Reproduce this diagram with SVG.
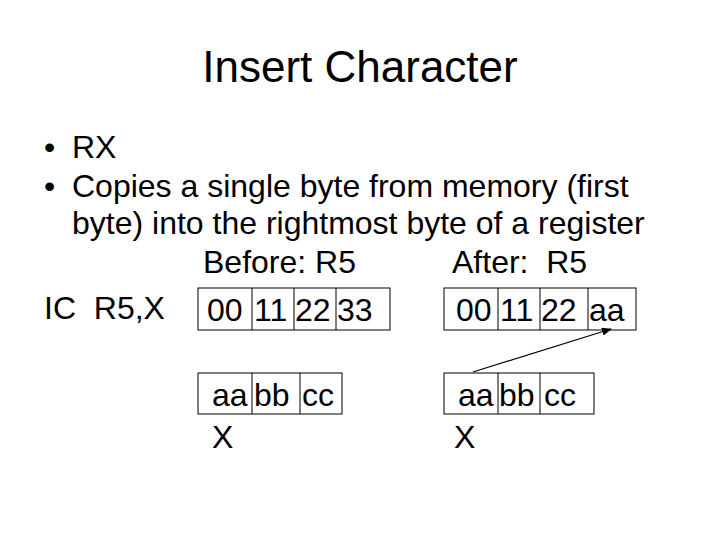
<svg xmlns="http://www.w3.org/2000/svg" width="720" height="540" viewBox="0 0 720 540">
<style>
text{font-family:"Liberation Sans",Arial,sans-serif;fill:#000}
.t{font-size:32px}
.b{fill:none;stroke:#000;stroke-width:1}
</style>
<defs><marker id="ah" markerWidth="10" markerHeight="8" refX="9" refY="4" orient="auto" markerUnits="userSpaceOnUse"><path d="M0,0L10,4L0,8z" fill="#000"/></marker></defs>
<rect width="720" height="540" fill="#fff"/>
<text x="360" y="82" font-size="44" text-anchor="middle">Insert Character</text>
<text class="t" x="44" y="158">•</text><text class="t" x="72" y="158">RX</text>
<text class="t" x="44" y="197">•</text><text class="t" x="72" y="197">Copies a single byte from memory (first</text>
<text class="t" x="72" y="234">byte) into the rightmost byte of a register</text>
<text class="t" x="203" y="273">Before: R5</text>
<text class="t" x="452" y="273" xml:space="preserve">After:  R5</text>
<text class="t" x="44" y="319" xml:space="preserve">IC  R5,X</text>
<g id="before-r5">
<rect class="b" x="198" y="288" width="192" height="42"/>
<path class="b" d="M252,288V330M294,288V330M336,288V330"/>
<text class="t" x="207" y="321">00</text><text class="t" x="254" y="321">11</text><text class="t" x="295" y="321">22</text><text class="t" x="337" y="321">33</text>
</g>
<g id="after-r5">
<rect class="b" x="444" y="288" width="192" height="42"/>
<path class="b" d="M498,288V330M540,288V330M588,288V330"/>
<text class="t" x="456" y="321">00</text><text class="t" x="500" y="321">11</text><text class="t" x="541" y="321">22</text><text class="t" x="589" y="321">aa</text>
</g>
<g id="before-x">
<rect class="b" x="198" y="373" width="144" height="41"/>
<path class="b" d="M252,373V414M300,373V414"/>
<text class="t" x="212" y="406">aa</text><text class="t" x="254" y="406">bb</text><text class="t" x="302" y="406">cc</text>
<text class="t" x="212" y="448">X</text>
</g>
<g id="after-x">
<rect class="b" x="444" y="373" width="150" height="41"/>
<path class="b" d="M498,373V414M540,373V414"/>
<text class="t" x="458" y="406">aa</text><text class="t" x="499" y="406">bb</text><text class="t" x="544" y="406">cc</text>
<text class="t" x="454" y="448">X</text>
</g>
<g id="connectors">
<line x1="473" y1="372" x2="611" y2="329" stroke="#000" stroke-width="1.2" marker-end="url(#ah)"/>
</g>
</svg>
